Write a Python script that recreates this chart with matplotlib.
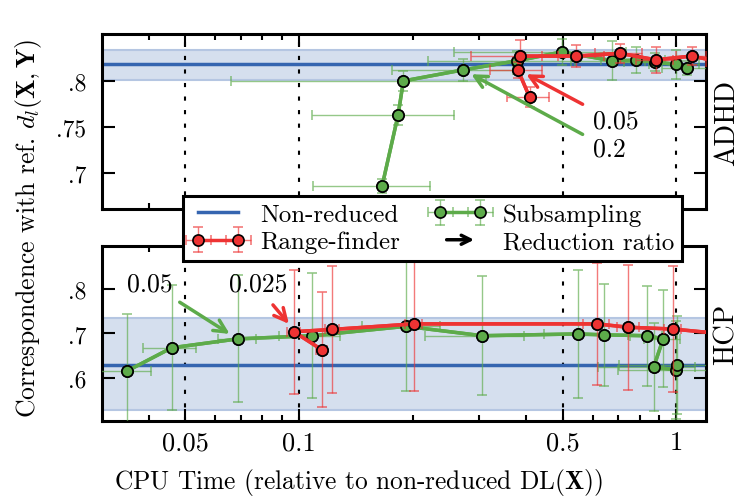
import numpy as np
import matplotlib
matplotlib.use('Agg')
import matplotlib.pyplot as plt
from matplotlib.legend_handler import HandlerPatch
from matplotlib.patches import FancyArrowPatch
from matplotlib.ticker import FixedLocator, FixedFormatter, NullFormatter

plt.rcParams['font.family'] = 'serif'
plt.rcParams['font.serif'] = ['cmr10']
plt.rcParams['mathtext.fontset'] = 'cm'
plt.rcParams['axes.formatter.use_mathtext'] = True

# ADHD (top panel)
adhd_ref = 0.818
adhd_ref_band = (0.801, 0.834)
adhd_sub_time = [0.166, 0.183, 0.189, 0.272, 0.379, 0.497, 0.675, 0.78, 0.876, 0.995, 1.063]
adhd_sub_score = [0.686, 0.763, 0.800, 0.812, 0.822, 0.8315, 0.822, 0.8225, 0.8207, 0.818, 0.814]
adhd_sub_time_err = [0.057, 0.075, 0.123, 0.096, 0.16, 0.24, 0.15, 0.15, 0.15, 0.15, 0.15]
adhd_sub_score_err = [0.008, 0.011, 0.011, 0.0115, 0.01, 0.0145, 0.021, 0.014, 0.01, 0.016, 0.008]
adhd_rf_time = [0.408, 0.38, 0.385, 0.541, 0.708, 0.881, 1.096, 1.3]
adhd_rf_score = [0.7826, 0.812, 0.827, 0.827, 0.830, 0.823, 0.827, 0.821]
adhd_rf_time_err = [0.052, 0.06, 0.1, 0.1, 0.1, 0.1, 0.1, 0.1]
adhd_rf_score_err = [0.0105, 0.009, 0.017, 0.012, 0.01, 0.014, 0.01, 0.01]

# HCP (bottom panel)
hcp_ref = 0.630
hcp_ref_band = (0.529, 0.734)
hcp_sub_time = [0.035, 0.046, 0.069, 0.1085, 0.192, 0.3055, 0.547, 0.642, 0.833, 0.922, 0.870, 1.0, 1.004]
hcp_sub_score = [0.6157, 0.668, 0.688, 0.695, 0.716, 0.695, 0.699, 0.697, 0.695, 0.688, 0.6246, 0.6186, 0.630]
hcp_sub_time_err = [0.0056, 0.0073, 0.008, 0.02, 0.045, 0.09, 0.1, 0.1, 0.08, 0.1, 0.25, 0.3, 0.3]
hcp_sub_score_err = [0.127, 0.14, 0.142, 0.14, 0.145, 0.133, 0.143, 0.114, 0.112, 0.109, 0.098, 0.11, 0.11]
hcp_rf_time = [0.1147, 0.0968, 0.1223, 0.2014, 0.614, 0.745, 0.976, 1.3]
hcp_rf_score = [0.664, 0.704, 0.709, 0.7215, 0.7215, 0.714, 0.710, 0.700]
hcp_rf_time_err = [0.004, 0.004, 0.005, 0.01, 0.05, 0.05, 0.05, 0.05]
hcp_rf_score_err = [0.128, 0.139, 0.142, 0.15, 0.136, 0.14, 0.141, 0.14]

x_major = [0.05, 0.1, 0.5, 1]
x_major_labels = ['0.05', '0.1', '0.5', '1']
x_minor = [0.04, 0.06, 0.07, 0.08, 0.09, 0.2, 0.3, 0.4, 0.6, 0.7, 0.8, 0.9]

blue = '#3565b0'
green = '#5dab4a'
red = '#ee3333'
band_face = '#d5dfee'
band_edge = '#b5c6e2'


class ArrowHandler(HandlerPatch):
    def create_artists(self, legend, orig_handle, xdescent, ydescent,
                       width, height, fontsize, trans):
        y = 0.5 * height - ydescent
        arr = FancyArrowPatch((0.2 * width - xdescent, y), (0.8 * width - xdescent, y),
                              arrowstyle='->', mutation_scale=fontsize * 0.9,
                              lw=2.5, color='k')
        arr.set_transform(trans)
        return [arr]


def draw_panel(ax, ref, band, sub, rf, ylim, yticks, ylabels, name):
    xlim = (0.03, 1.2)
    ax.fill_between(xlim, band[0], band[1], facecolor=band_face,
                    edgecolor=band_edge, lw=1.5, zorder=0.5)
    ref_line, = ax.plot(xlim, [ref, ref], color=blue, lw=2.5, zorder=1.5)
    for xv in x_major:
        ax.axvline(xv, color='k', lw=1.5, ls=(0, (2, 4.5)), zorder=1)

    handles = []
    for (t, s, te, se), col, z in [(sub, green, 3), (rf, red, 5)]:
        eb = ax.errorbar(t, s, xerr=te, yerr=se, fmt='o-', color=col, lw=2.5,
                         ms=8, mfc=col, mec='k', mew=1.2,
                         ecolor=matplotlib.colors.to_rgba(col, 0.65),
                         elinewidth=1, capsize=3.5, capthick=1, zorder=z)
        ax.plot(t, s, 'o-', color=col, lw=2.5, ms=8, mfc=col, mec='k', mew=1.2, zorder=z + 0.5)
        handles.append(eb)

    ax.set_xscale('log')
    ax.set_xlim(*xlim)
    ax.set_ylim(*ylim)
    ax.xaxis.set_major_locator(FixedLocator(x_major))
    ax.xaxis.set_major_formatter(FixedFormatter(x_major_labels))
    ax.xaxis.set_minor_locator(FixedLocator(x_minor))
    ax.xaxis.set_minor_formatter(NullFormatter())
    ax.yaxis.set_major_locator(FixedLocator(yticks))
    ax.yaxis.set_major_formatter(FixedFormatter(ylabels))
    ax.tick_params(which='both', direction='in', top=True, right=True, width=1.5)
    ax.tick_params(which='major', length=9)
    ax.tick_params(which='minor', length=4.5)
    ax.tick_params(axis='x', which='major', labelsize=19, pad=7)
    ax.tick_params(axis='y', which='major', labelsize=17, pad=11)
    for sp in ax.spines.values():
        sp.set_linewidth(2.2)
    ax.text(1.0335, 0.5, name, transform=ax.transAxes, rotation=90,
            ha='center', va='center', fontsize=20.5)
    return ref_line, handles[0], handles[1]


fig = plt.figure(figsize=(7.42, 5.02), dpi=100)
ax1 = fig.add_axes([0.137, 0.5817, 0.815, 0.3486])
ax2 = fig.add_axes([0.137, 0.1594, 0.815, 0.3486])

ref_line, sub_h, rf_h = draw_panel(
    ax1, adhd_ref, adhd_ref_band,
    (adhd_sub_time, adhd_sub_score, adhd_sub_time_err, adhd_sub_score_err),
    (adhd_rf_time, adhd_rf_score, adhd_rf_time_err, adhd_rf_score_err),
    (0.661, 0.851), [0.7, 0.75, 0.8], ['.7', '.75', '.8'], 'ADHD')
draw_panel(
    ax2, hcp_ref, hcp_ref_band,
    (hcp_sub_time, hcp_sub_score, hcp_sub_time_err, hcp_sub_score_err),
    (hcp_rf_time, hcp_rf_score, hcp_rf_time_err, hcp_rf_score_err),
    (0.504, 0.896), [0.6, 0.7, 0.8], ['.6', '.7', '.8'], 'HCP')
ax1.tick_params(labelbottom=False)

# reduction ratio annotations
arrow_kw = dict(arrowstyle='->', lw=2.5, mutation_scale=22, shrinkA=0, shrinkB=0)
ax1.annotate('', xy=(0.40, 0.8073), xytext=(0.564, 0.7747),
             arrowprops=dict(color=red, **arrow_kw), zorder=6)
ax1.annotate('', xy=(0.286, 0.8073), xytext=(0.564, 0.742),
             arrowprops=dict(color=green, **arrow_kw), zorder=6)
ax1.text(0.600, 0.7497, '0.05', fontsize=18.5, va='baseline', ha='left')
ax1.text(0.600, 0.7192, '0.2', fontsize=18.5, va='baseline', ha='left')

ax2.annotate('', xy=(0.0655, 0.699), xytext=(0.0483, 0.770),
             arrowprops=dict(color=green, **arrow_kw), zorder=6)
ax2.annotate('', xy=(0.094, 0.7215), xytext=(0.0853, 0.764),
             arrowprops=dict(color=red, **arrow_kw), zorder=6)
ax2.text(0.035, 0.796, '0.05', fontsize=18.5, va='baseline', ha='left')
ax2.text(0.0652, 0.796, '0.025', fontsize=18.5, va='baseline', ha='left')

ax2.set_xlabel(r'CPU Time (relative to non-reduced DL($\mathbf{X}$))', fontsize=18.3, labelpad=8)
ax2.xaxis.label.set_x(0.424)
fig.text(0.038, 0.545, r'Correspondence with ref. $d_l(\mathbf{X}, \mathbf{Y})$',
         rotation=90, ha='center', va='center', fontsize=18.5)

arrow_handle = FancyArrowPatch((0, 0), (1, 1))
leg = fig.legend([ref_line, rf_h, sub_h, arrow_handle],
                 ['Non-reduced', 'Range-finder', 'Subsampling', 'Reduction ratio'],
                 handler_map={FancyArrowPatch: ArrowHandler()},
                 loc='upper left', bbox_to_anchor=(183 / 742, 1 - 197 / 502),
                 ncol=2, numpoints=2, fontsize=18, frameon=True, fancybox=False,
                 framealpha=1, edgecolor='k', borderaxespad=0, handlelength=2.2,
                 handletextpad=0.6, columnspacing=1.3, borderpad=0.3, labelspacing=0.2)
leg.get_frame().set_linewidth(2.2)

fig.savefig('out.png', dpi=100)
